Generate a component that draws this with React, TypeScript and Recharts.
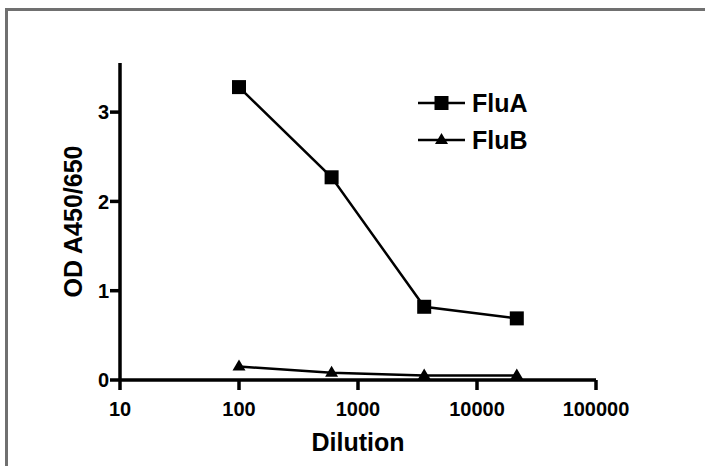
import {
  Label,
  Legend,
  Line,
  LineChart,
  XAxis,
  YAxis,
} from "recharts";

const dilutions = [100, 600, 3600, 21600];
const fluA = [3.28, 2.27, 0.82, 0.69];
const fluB = [0.15, 0.08, 0.05, 0.05];
const xTicks = [10, 100, 1000, 10000, 100000];
const yTicks = [0, 1, 2, 3];
const seriesNames = ["FluA", "FluB"];

const data = dilutions.map((d, i) => ({ dilution: d, FluA: fluA[i], FluB: fluB[i] }));

const FONT = "'Liberation Sans', Arial, Helvetica, sans-serif";
const INK = "#000";

const tickStyle = { fill: INK, fontSize: 20, fontWeight: 700, fontFamily: FONT };

function Square(props: any) {
  const { cx, cy, index } = props;
  if (cx == null || cy == null) return null;
  return <rect key={`sq-${index}`} x={cx - 7} y={cy - 7} width={14} height={14} fill={INK} />;
}

function Triangle(props: any) {
  const { cx, cy, index } = props;
  if (cx == null || cy == null) return null;
  return (
    <polygon
      key={`tri-${index}`}
      points={`${cx},${cy - 7} ${cx + 6.5},${cy + 4} ${cx - 6.5},${cy + 4}`}
      fill={INK}
    />
  );
}

function LegendBox() {
  return (
    <svg width={140} height={80}>
      {seriesNames.map((name, i) => {
        const y = 15 + i * 37;
        return (
          <g key={name}>
            <line x1={0} x2={47} y1={y} y2={y} stroke={INK} strokeWidth={2.5} />
            {i === 0 ? (
              <rect x={16.5} y={y - 7} width={14} height={14} fill={INK} />
            ) : (
              <polygon points={`23.5,${y - 7} 30,${y + 4} 17,${y + 4}`} fill={INK} />
            )}
            <text
              x={54}
              y={y + 9}
              fontSize={25}
              fontWeight={700}
              fontFamily={FONT}
              fill={INK}
            >
              {name}
            </text>
          </g>
        );
      })}
    </svg>
  );
}

export default function App() {
  return (
    <div
      style={{
        position: "absolute",
        left: 0,
        top: 0,
        width: 705,
        height: 466,
        background: "#fff",
        overflow: "hidden",
      }}
    >
      <div
        style={{
          position: "absolute",
          left: 5,
          top: 8,
          right: -5,
          bottom: -5,
          borderLeft: "3px solid #707070",
          borderTop: "3px solid #707070",
        }}
      />
      <div style={{ position: "absolute", left: 0, top: 0 }}>
        <LineChart
          width={705}
          height={466}
          data={data}
          margin={{ top: 63, right: 109, bottom: 14, left: 60 }}
        >
          <XAxis
            dataKey="dilution"
            type="number"
            scale="log"
            domain={[10, 100000]}
            ticks={xTicks}
            allowDataOverflow
            height={72}
            tickSize={10}
            tickMargin={12}
            tick={tickStyle}
            axisLine={{ stroke: INK, strokeWidth: 3.5 }}
            tickLine={{ stroke: INK, strokeWidth: 3.5 }}
            interval={0}
          >
            <Label
              value="Dilution"
              position="insideBottom"
              offset={1}
              fill={INK}
              fontSize={25}
              fontWeight={700}
              fontFamily={FONT}
            />
          </XAxis>
          <YAxis
            type="number"
            domain={[0, 3.55]}
            ticks={yTicks}
            allowDataOverflow
            width={60}
            tickSize={10}
            tickMargin={1}
            tick={tickStyle}
            axisLine={{ stroke: INK, strokeWidth: 3.5 }}
            tickLine={{ stroke: INK, strokeWidth: 3.5 }}
            interval={0}
          >
            <Label
              content={(props: any) => {
                const vb = props.viewBox || {};
                const x = vb.x + 13;
                const y = vb.y + vb.height / 2;
                return (
                  <text
                    x={x}
                    y={y}
                    transform={`rotate(-90, ${x}, ${y})`}
                    textAnchor="middle"
                    dominantBaseline="central"
                    fontSize={25}
                    fontWeight={700}
                    fontFamily={FONT}
                    fill={INK}
                  >
                    OD A450/650
                  </text>
                );
              }}
            />
          </YAxis>
          <Legend
            layout="horizontal"
            verticalAlign="middle"
            align="center"
            content={() => <LegendBox />}
            wrapperStyle={{ position: "absolute", left: 418, top: 88, width: 140 }}
          />
          <Line
            dataKey="FluA"
            stroke={INK}
            strokeWidth={2.5}
            dot={Square}
            activeDot={false}
            isAnimationActive={false}
          />
          <Line
            dataKey="FluB"
            stroke={INK}
            strokeWidth={2.5}
            dot={Triangle}
            activeDot={false}
            isAnimationActive={false}
          />
        </LineChart>
      </div>
    </div>
  );
}
